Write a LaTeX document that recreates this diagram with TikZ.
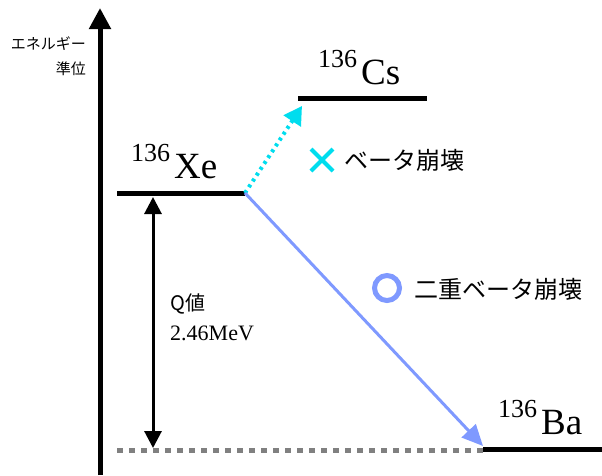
\documentclass[tikz,border=0pt]{standalone}
\usepackage{fontspec}
\newfontfamily\jp{Noto Sans CJK JP}
\newfontfamily\isofont{Liberation Serif}
\usetikzlibrary{arrows.meta,calc}
\definecolor{cyanc}{HTML}{00DDEE}
\definecolor{bluec}{HTML}{7F99FF}
\definecolor{grayc}{HTML}{808080}
\newcommand{\isot}[1]{\raisebox{17pt}{\fontsize{26}{26}\selectfont 136}\hspace{4pt}{\fontsize{37}{37}\selectfont #1}}
\tikzset{
  level/.style={line width=5pt},
  iso/.style={anchor=base west, inner sep=0pt, font=\isofont},
  jlabel/.style={inner sep=0pt, font=\jp\fontsize{24}{24}\selectfont},
}
\begin{document}
\begin{tikzpicture}[x=1pt,y=-1pt]
\useasboundingbox (0,0) rectangle (602,475);
% axis
\coordinate (ax0) at (100,475);
\coordinate (ax1) at (100,8);
\draw[line width=5pt,-{Triangle[length=21pt,width=21pt]}] (ax0) -- (ax1);
\node[inner sep=0pt, anchor=east, font=\jp\fontsize{15}{15}\selectfont] (en) at (86,44) {エネルギー};
\node[inner sep=0pt, anchor=east, font=\jp\fontsize{15}{15}\selectfont] (jun) at (86,69) {準位};
% levels
\coordinate (xeL) at (117,193);
\coordinate (xeR) at (245,193);
\coordinate (csL) at (298,98);
\coordinate (csR) at (427,98);
\coordinate (baL) at (483,449);
\coordinate (baR) at (602,449);
\coordinate (gL) at (117,450);
\coordinate (gR) at (483,450);
\coordinate (csT) at (302,106);
\coordinate (baT) at (483,446);
\coordinate (qT) at (153,197);
\coordinate (qB) at (153,448);
\draw[level] (xeL) -- (xeR);
\draw[level] (csL) -- (csR);
\draw[level] (baL) -- (baR);
\draw[line width=5pt, grayc, dash pattern=on 6pt off 6pt] (gL) -- (gR);
% labels
\node[iso] (xe) at (131,178) {\isot{Xe}};
\node[iso] (cs) at (318,84) {\isot{Cs}};
\node[iso] (ba) at (498,434) {\isot{Ba}};
% arrows
\draw[cyanc, line width=4pt, dash pattern=on 3pt off 4pt, -{Triangle[length=18pt,width=20pt]}] (xeR) -- (csT);
\draw[bluec, line width=3pt, -{Triangle[length=21pt,width=19pt]}] (xeR) -- (baT);
\draw[black, line width=3pt, {Triangle[length=17pt,width=17pt]}-{Triangle[length=17pt,width=17pt]}] (qT) -- (qB);
% legend
\coordinate (xc) at (322,160);
\draw[cyanc, line width=4pt] ($(xc)+(-11,-11)$) -- ($(xc)+(11,11)$);
\draw[cyanc, line width=4pt] ($(xc)+(-11,11)$) -- ($(xc)+(11,-11)$);
\node[jlabel, anchor=west] (beta) at (344,160) {ベータ崩壊};
\node[draw=bluec, line width=5pt, circle, minimum size=25pt, inner sep=0pt] (oc) at (387,288) {};
\node[jlabel, anchor=west] (dbeta) at (414,289) {二重ベータ崩壊};
% Q value
\node[inner sep=0pt, anchor=west, font=\jp\fontsize{20}{20}\selectfont] (q) at (170,304) {Q値};
\node[inner sep=0pt, anchor=west, font=\isofont\fontsize{22}{22}\selectfont] (qv) at (170,333) {2.46MeV};
\end{tikzpicture}
\end{document}
